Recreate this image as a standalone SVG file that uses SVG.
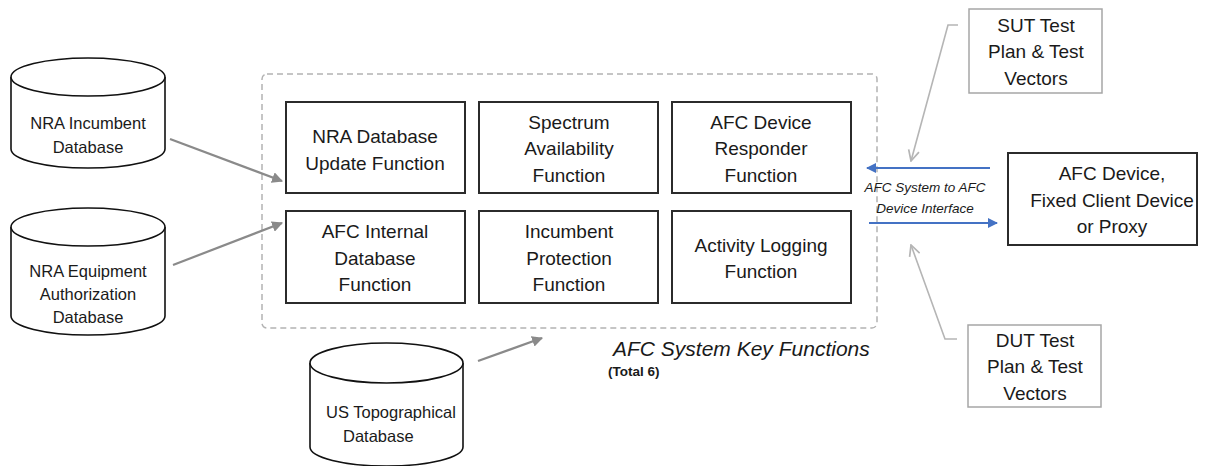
<svg xmlns="http://www.w3.org/2000/svg" width="1206" height="466" viewBox="0 0 1206 466">
  <style>
    text { font-family: "Liberation Sans", Arial, sans-serif; fill: #1a1a1a; text-anchor: middle; }
    .fn { font-size: 19px; }
    .db { font-size: 16.5px; }
    .fnbox { fill: #fff; stroke: #2b2b2b; stroke-width: 2; }
    .tbox { fill: #fff; stroke: #a6a6a6; stroke-width: 1.5; }
    .cyl { fill: #fff; stroke: #111; stroke-width: 1.6; }
    .feed { stroke: #8a8a8a; stroke-width: 2.2; fill: none; }
    .plan { stroke: #b5b5b5; stroke-width: 1.6; fill: none; }
    .iface { stroke: #4472c4; stroke-width: 2; fill: none; }
  </style>
  <defs>
    <marker id="grayHead" viewBox="0 0 10 10" refX="9" refY="5" markerWidth="5" markerHeight="5" orient="auto" markerUnits="strokeWidth">
      <path d="M0,0 L10,5 L0,10 Z" fill="#8a8a8a"/>
    </marker>
    <marker id="openHead" viewBox="0 0 12 12" refX="11" refY="6" markerWidth="8" markerHeight="8" orient="auto" markerUnits="strokeWidth">
      <path d="M1,1 L11,6 L1,11" fill="none" stroke="#b5b5b5" stroke-width="1.6"/>
    </marker>
    <marker id="blueHead" viewBox="0 0 10 10" refX="9" refY="5" markerWidth="5" markerHeight="5" orient="auto" markerUnits="strokeWidth">
      <path d="M0,0 L10,5 L0,10 Z" fill="#4472c4"/>
    </marker>
  </defs>

  <!-- boundary of the AFC system -->
  <g id="afc-system">
    <rect x="262" y="74" width="615" height="254" rx="5" fill="none" stroke="#b3b3b3" stroke-width="1.5" stroke-dasharray="6 4"/>
    <text x="613" y="356" font-size="21" font-style="italic" style="text-anchor:start">AFC System Key Functions</text>
    <text x="608" y="376" font-size="13.5" font-weight="bold" style="text-anchor:start">(Total 6)</text>
  </g>

  <!-- function blocks -->
  <g id="fn-nra-update">
    <rect class="fnbox" x="286" y="102" width="179" height="91"/>
    <text class="fn" x="375" y="143">NRA Database</text>
    <text class="fn" x="375" y="170">Update Function</text>
  </g>
  <g id="fn-spectrum">
    <rect class="fnbox" x="479" y="102" width="179" height="91"/>
    <text class="fn" x="569" y="129">Spectrum</text>
    <text class="fn" x="569" y="155">Availability</text>
    <text class="fn" x="569" y="182">Function</text>
  </g>
  <g id="fn-responder">
    <rect class="fnbox" x="672" y="102" width="179" height="91"/>
    <text class="fn" x="761" y="129">AFC Device</text>
    <text class="fn" x="761" y="155">Responder</text>
    <text class="fn" x="761" y="182">Function</text>
  </g>
  <g id="fn-internal-db">
    <rect class="fnbox" x="286" y="211" width="179" height="92"/>
    <text class="fn" x="375" y="238">AFC Internal</text>
    <text class="fn" x="375" y="265">Database</text>
    <text class="fn" x="375" y="291">Function</text>
  </g>
  <g id="fn-protection">
    <rect class="fnbox" x="479" y="211" width="179" height="92"/>
    <text class="fn" x="569" y="238">Incumbent</text>
    <text class="fn" x="569" y="265">Protection</text>
    <text class="fn" x="569" y="291">Function</text>
  </g>
  <g id="fn-logging">
    <rect class="fnbox" x="672" y="211" width="179" height="92"/>
    <text class="fn" x="761" y="252">Activity Logging</text>
    <text class="fn" x="761" y="278">Function</text>
  </g>

  <!-- external databases -->
  <g id="db-incumbent">
    <path class="cyl" d="M11,77 A77,19 0 0 1 165,77 L165,149 A77,19 0 0 1 11,149 Z"/>
    <path class="cyl" fill="none" d="M11,77 A77,19 0 0 0 165,77"/>
    <text class="db" x="88" y="129">NRA Incumbent</text>
    <text class="db" x="88" y="153">Database</text>
  </g>
  <g id="db-equipment">
    <path class="cyl" d="M11,227 A77,19 0 0 1 165,227 L165,316 A77,19 0 0 1 11,316 Z"/>
    <path class="cyl" fill="none" d="M11,227 A77,19 0 0 0 165,227"/>
    <text class="db" x="88" y="277">NRA Equipment</text>
    <text class="db" x="88" y="300">Authorization</text>
    <text class="db" x="88" y="323">Database</text>
  </g>
  <g id="db-topo">
    <path class="cyl" d="M310,363 A76.5,20 0 0 1 463,363 L463,447 A76.5,19 0 0 1 310,447 Z"/>
    <path class="cyl" fill="none" d="M310,363 A76.5,20 0 0 0 463,363"/>
    <text class="db" x="326" y="418" style="text-anchor:start">US Topographical</text>
    <text class="db" x="343" y="442" style="text-anchor:start">Database</text>
  </g>

  <!-- test plans and the device -->
  <g id="sut-plan">
    <rect class="tbox" x="969" y="9" width="133" height="84"/>
    <text class="fn" x="1036" y="32">SUT Test</text>
    <text class="fn" x="1036" y="58">Plan &amp; Test</text>
    <text class="fn" x="1036" y="85">Vectors</text>
  </g>
  <g id="dut-plan">
    <rect class="tbox" x="968" y="325" width="133" height="82"/>
    <text class="fn" x="1035" y="347">DUT Test</text>
    <text class="fn" x="1035" y="373">Plan &amp; Test</text>
    <text class="fn" x="1035" y="400">Vectors</text>
  </g>
  <g id="afc-device">
    <rect class="fnbox" x="1008" y="153" width="189" height="92"/>
    <text class="fn" x="1112" y="180">AFC Device,</text>
    <text class="fn" x="1112" y="207">Fixed Client Device</text>
    <text class="fn" x="1112" y="233">or Proxy</text>
  </g>

  <!-- connectors -->
  <g id="connectors">
    <line class="feed" x1="170" y1="139" x2="282" y2="181" marker-end="url(#grayHead)"/>
    <line class="feed" x1="173" y1="265" x2="282" y2="223" marker-end="url(#grayHead)"/>
    <line class="feed" x1="478" y1="361" x2="542" y2="338" marker-end="url(#grayHead)"/>
    <polyline class="plan" points="958,25 948,25 911,161" marker-end="url(#openHead)"/>
    <polyline class="plan" points="957,339 945,339 911,245" marker-end="url(#openHead)"/>
    <line class="iface" x1="990" y1="168" x2="867" y2="168" marker-end="url(#blueHead)"/>
    <line class="iface" x1="869" y1="223" x2="997" y2="223" marker-end="url(#blueHead)"/>
    <text x="925" y="192" font-size="13.5" font-style="italic">AFC System to AFC</text>
    <text x="925" y="213" font-size="13.5" font-style="italic">Device Interface</text>
  </g>
</svg>
